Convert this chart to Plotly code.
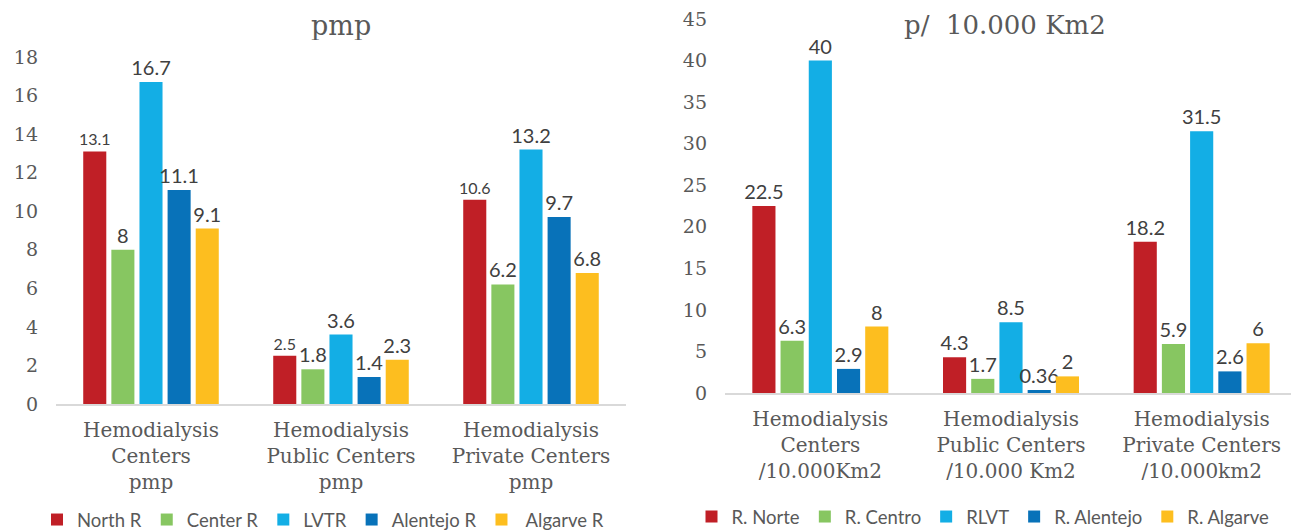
import plotly.graph_objects as go

categories_left = ["Hemodialysis<br>Centers<br>pmp", "Hemodialysis<br>Public Centers<br>pmp", "Hemodialysis<br>Private Centers<br>pmp"]
categories_right = ["Hemodialysis<br>Centers<br>/10.000Km2", "Hemodialysis<br>Public Centers<br>/10.000 Km2", "Hemodialysis<br>Private Centers<br>/10.000km2"]

series_left = ["North R", "Center R", "LVTR", "Alentejo R", " Algarve R"]
series_right = ["R. Norte", "R. Centro", "RLVT", "R. Alentejo", "R. Algarve"]

north_pmp = [13.1, 2.5, 10.6]
center_pmp = [8, 1.8, 6.2]
lvtr_pmp = [16.7, 3.6, 13.2]
alentejo_pmp = [11.1, 1.4, 9.7]
algarve_pmp = [9.1, 2.3, 6.8]

norte_km2 = [22.5, 4.3, 18.2]
centro_km2 = [6.3, 1.7, 5.9]
rlvt_km2 = [40, 8.5, 31.5]
alentejo_km2 = [2.9, 0.36, 2.6]
algarve_km2 = [8, 2, 6]

colors = ["#C01F26", "#87C661", "#13AEE5", "#0872B9", "#FDBE1F"]

SERIF = "DejaVu Serif"
SANS = "Lato, Open Sans, sans-serif"

# page body has an 8px margin; figure sized to fill the rest of the window
OFF = 8
W = 1299 - OFF
H = 532 - OFF


def px(x):
    return (x - OFF) / W


def py(y):
    return 1 - (y - OFF) / H


fig = go.Figure()

left_vals = [north_pmp, center_pmp, lvtr_pmp, alentejo_pmp, algarve_pmp]
right_vals = [norte_km2, centro_km2, rlvt_km2, alentejo_km2, algarve_km2]

for i, (name, vals) in enumerate(zip(series_left, left_vals)):
    fig.add_trace(go.Bar(
        x=categories_left, y=vals, name=name, marker_color=colors[i],
        marker_line_width=0,
        text=[str(v) for v in vals], textposition="outside", cliponaxis=False,
        constraintext="none",
        textfont=dict(family=SANS, size=16 if i == 0 else 20, color="#404040"),
        xaxis="x", yaxis="y", legend="legend",
    ))

for i, (name, vals) in enumerate(zip(series_right, right_vals)):
    fig.add_trace(go.Bar(
        x=categories_right, y=vals, name=name, marker_color=colors[i],
        marker_line_width=0,
        text=[str(v) for v in vals], textposition="outside", cliponaxis=False,
        constraintext="none",
        textfont=dict(family=SANS, size=20, color="#404040"),
        xaxis="x2", yaxis="y2", legend="legend2",
    ))

axis_common = dict(showgrid=False, zeroline=False, ticks="", showline=False, automargin=False,
                   ticklabeloverflow="allow")
xcommon = dict(showline=True, linecolor="#D9D9D9", linewidth=1.5, ticks="", showgrid=False,
               automargin=False, tickfont=dict(family=SERIF, size=20, color="#595959"),
               ticklabelstandoff=7, ticklabeloverflow="allow")

fig.update_layout(
    width=W, height=H,
    margin=dict(l=0, r=0, t=0, b=0, autoexpand=False),
    paper_bgcolor="white", plot_bgcolor="white",
    barmode="group", bargap=0.26, bargroupgap=0.18,
    xaxis=dict(domain=[px(56), px(626)], anchor="y", **xcommon),
    yaxis=dict(domain=[py(404), py(57)], range=[0, 18], dtick=2, anchor="x", **axis_common,
               tickfont=dict(family=SERIF, size=19, color="#595959"), ticklabelstandoff=17),
    xaxis2=dict(domain=[px(725), min(1.0, px(1297))], anchor="y2", **xcommon),
    yaxis2=dict(domain=[py(393), py(19)], range=[0, 45], dtick=5, anchor="x2", **axis_common,
                tickfont=dict(family=SERIF, size=19, color="#595959"), ticklabelstandoff=17),
    legend=dict(orientation="h", x=px(323), xanchor="center", y=py(501), yanchor="top",
                font=dict(family=SANS, size=18.5, color="#595959"), traceorder="normal",
                bgcolor="rgba(0,0,0,0)"),
    legend2=dict(orientation="h", x=px(983), xanchor="center", y=py(498), yanchor="top",
                 font=dict(family=SANS, size=18.5, color="#595959"), traceorder="normal",
                 bgcolor="rgba(0,0,0,0)"),
    annotations=[
        dict(text="pmp", x=px((56 + 626) / 2), y=1, xref="paper", yref="paper",
             xanchor="center", yanchor="top", height=30, valign="middle", showarrow=False,
             font=dict(family=SERIF, size=27, color="#595959")),
        dict(text="p/  10.000 Km2", x=px(1005), y=1, xref="paper", yref="paper",
             xanchor="center", yanchor="top", height=30, valign="middle", showarrow=False,
             font=dict(family=SERIF, size=26, color="#595959")),
    ],
)

fig.write_html("out.html")
